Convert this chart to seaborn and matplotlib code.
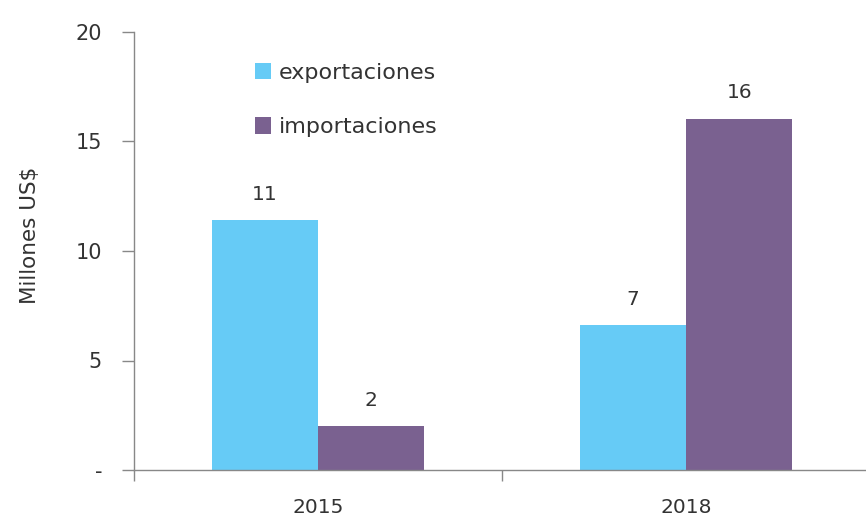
import matplotlib
matplotlib.use("Agg")
import matplotlib.pyplot as plt
from matplotlib.patches import Patch
import seaborn as sns
import pandas as pd

# Data (millions of US$)
years = ["2015", "2018"]
series = ["exportaciones", "importaciones"]
exportaciones = [11.4, 6.6]
importaciones = [2.0, 16.05]
colors = ["#66CBF6", "#7A6190"]
yticks = [0, 5, 10, 15, 20]
ytick_labels = ["-", "5", "10", "15", "20"]

df = pd.DataFrame({
    "año": years * 2,
    "serie": [series[0]] * len(years) + [series[1]] * len(years),
    "valor": exportaciones + importaciones,
})

sns.set_theme(style="white")
plt.rcParams["font.family"] = ["DejaVu Sans"]
text_color = "#333333"
axis_color = "#888888"

fig = plt.figure(figsize=(8.66, 5.2), dpi=100)
ax = fig.add_axes([134 / 866, 50 / 520, 736 / 866, 438 / 520])

sns.barplot(data=df, x="año", y="valor", hue="serie", order=years,
            hue_order=series, palette=colors, width=0.578, saturation=1,
            linewidth=0, ax=ax, legend=False)

# value labels above each bar
for cont in ax.containers:
    ax.bar_label(cont, labels=[f"{b.get_height():.0f}" for b in cont],
                 padding=12, fontsize=14.5, color=text_color)

ax.set_xlim(-0.5, 1.5)
ax.set_ylim(0, 20)
ax.set_yticks(yticks)
ax.set_yticklabels(ytick_labels, fontsize=15, color=text_color)
ax.set_xlabel("")
ax.set_ylabel("Millones US$", fontsize=15.5, color=text_color)
ax.yaxis.set_label_coords(-0.128, 0.535)

# category labels without ticks; boundary ticks between categories
ax.tick_params(axis="x", which="major", length=0, pad=20, labelsize=14.5,
               labelcolor=text_color)
ax.set_xticks([-0.5, 0.5, 1.5], minor=True)
ax.tick_params(axis="x", which="minor", bottom=True, length=8, width=1,
               color=axis_color, direction="out")
ax.tick_params(axis="y", length=9, width=1, color=axis_color, direction="out",
               pad=14, left=True)

for side in ["top", "right"]:
    ax.spines[side].set_visible(False)
for side in ["left", "bottom"]:
    ax.spines[side].set_color(axis_color)
    ax.spines[side].set_linewidth(1)

# legend
handles = [Patch(facecolor=c, edgecolor="none") for c in colors]
ax.legend(handles, series, loc="upper left", bbox_to_anchor=(0.152, 0.95),
          frameon=False, prop={"family": "DejaVu Sans", "size": 16},
          handlelength=0.75, handleheight=0.75, handletextpad=0.35,
          labelspacing=1.55, labelcolor=text_color, borderaxespad=0)

fig.savefig("out.png", dpi=100)
